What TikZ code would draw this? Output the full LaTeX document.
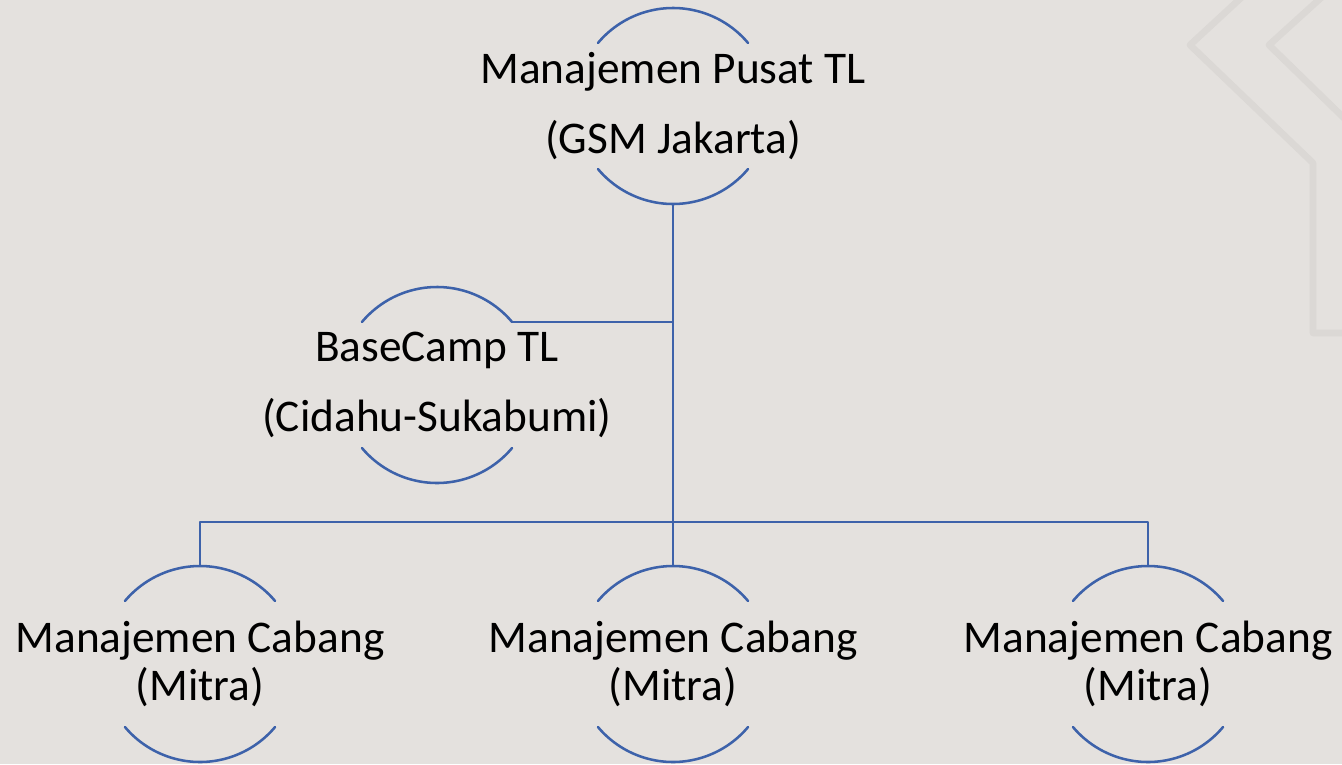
\documentclass[tikz,border=0pt]{standalone}
\usepackage{fontspec}
\setmainfont{Carlito}
\definecolor{linkblue}{RGB}{61,98,170}
\definecolor{bggrey}{RGB}{228,225,222}
\definecolor{chevgrey}{RGB}{219,216,213}
\begin{document}
\begin{tikzpicture}[x=0.75pt, y=-0.75pt, line join=round]
	\tikzset{
		unit/.style={align=center, font=\fontsize{34}{53}\selectfont},
		unitsmall/.style={align=center, font=\fontsize{34}{36}\selectfont},
		arcline/.style={draw=linkblue, line width=1.9pt, line cap=round},
		link/.style={draw=linkblue, line width=1.9pt}
	}
	% background and chevrons
	\fill[bggrey] (0,0) rectangle (1342,764);
	\useasboundingbox (0,0) rectangle (1342,764);
	\draw[chevgrey, line width=5pt] (1243,-4) -- (1190,45) -- (1313,163) -- (1313,333) -- (1346,333);
	\draw[chevgrey, line width=5pt] (1323,-4) -- (1269,45) -- (1346,120);
	% units
	\node[unit] (pusat) at (673,106) {Manajemen Pusat TL\\(GSM Jakarta)};
	\node[unit] (basecamp) at (437,385) {BaseCamp TL\\(Cidahu-Sukabumi)};
	\foreach \x/\n in {200/cabA, 673/cabB, 1148/cabC}{
		\node[unitsmall] (\n) at (\x,664) {Manajemen Cabang\\(Mitra)};
		\coordinate (\n-n) at (\x,566);
	}
	\foreach \n in {pusat, basecamp, cabA, cabB, cabC}{
		\draw[arcline, shift={(\n.center)}] (40:98) arc[start angle=40, end angle=140, radius=98];
		\draw[arcline, shift={(\n.center)}] (220:98) arc[start angle=220, end angle=320, radius=98];
	}
	% connectors
	\coordinate (pusat-s) at (673,204);
	\coordinate (tee) at (673,322);
	\coordinate (basecamp-e) at (512,322);
	\coordinate (hub) at (673,522);
	\draw[link] (pusat-s) -- (hub);
	\draw[link] (tee) -- (basecamp-e);
	\draw[link] (cabA-n) |- (hub) -| (cabC-n);
	\draw[link] (hub) -- (cabB-n);
\end{tikzpicture}
\end{document}
